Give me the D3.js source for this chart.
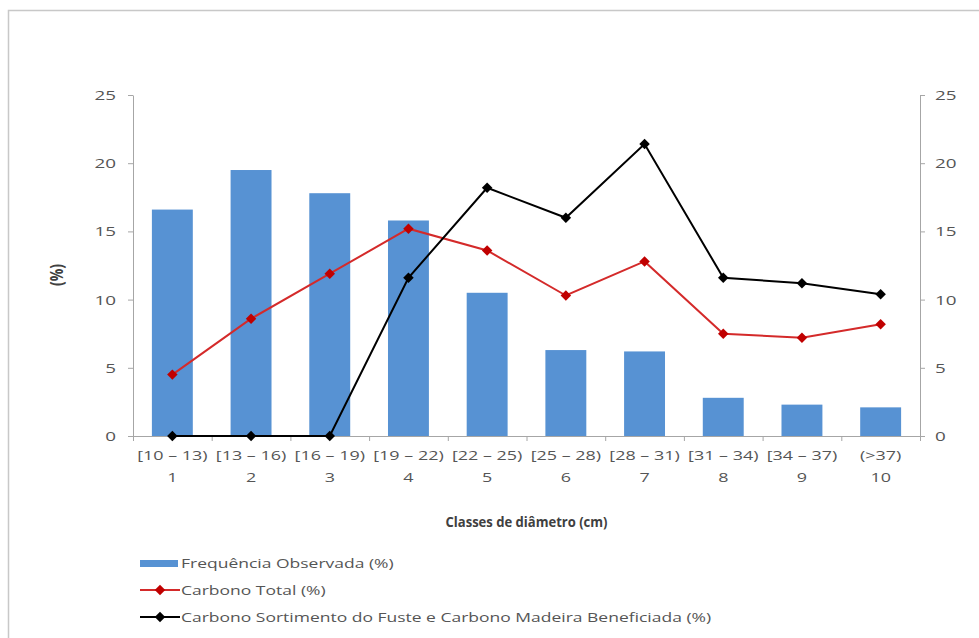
<!DOCTYPE html>
<html><head><meta charset="utf-8">
<script src="https://cdn.jsdelivr.net/npm/d3@7"></script>
<style>body{margin:0;background:#fff}svg{display:block}text{font-family:"Open Sans",sans-serif;fill:#555}</style>
</head><body>
<svg id="c" width="979" height="638"></svg>
<script>
const ranges = ["[10 – 13)","[13 – 16)","[16 – 19)","[19 – 22)","[22 – 25)","[25 – 28)","[28 – 31)","[31 – 34)","[34 – 37)","(>37)"];
const classes = ["1","2","3","4","5","6","7","8","9","10"];
const freq = [16.6, 19.5, 17.8, 15.8, 10.5, 6.3, 6.2, 2.8, 2.3, 2.1];
const carbonoTotal = [4.5, 8.6, 11.9, 15.2, 13.6, 10.3, 12.8, 7.5, 7.2, 8.2];
const carbonoSort = [0, 0, 0, 11.6, 18.2, 16.0, 21.4, 11.6, 11.2, 10.4];
const yTicks = [0, 5, 10, 15, 20, 25];
const legendLabels = ["Frequência Observada (%)", "Carbono Total (%)", "Carbono Sortimento do Fuste e Carbono Madeira Beneficiada (%)"];

const svg = d3.select("#c");
svg.append("rect").attr("x",8.5).attr("y",10.5).attr("width",1000).attr("height",700)
  .attr("fill","#fff").attr("stroke","#c8c8c8").attr("stroke-width",1.5);

const L = 133, R = 920, T = 95, B = 436;
const x = d3.scaleBand().domain(d3.range(10)).range([L, R]).paddingInner(0.48).paddingOuter(0.24);
const xc = i => x(i) + x.bandwidth()/2;
const y = d3.scaleLinear().domain([0,25]).range([B, T]);
const axisCol = "#a6a6a6";

function stext(g, tx, ty, str, size, anchor, sx, weight){
  return g.append("text").attr("transform",`translate(${tx},${ty}) scale(${sx},1)`)
    .attr("text-anchor",anchor).attr("font-size",size).attr("font-weight",weight||400).text(str);
}

// bars
svg.append("g").selectAll("rect").data(freq).join("rect")
  .attr("x",(d,i)=>x(i)).attr("width",x.bandwidth())
  .attr("y",d=>y(d)).attr("height",d=>B-y(d)).attr("fill","#5792d3");

// axes
const gl = svg.append("g").attr("transform",`translate(${L},0)`).call(d3.axisLeft(y).tickValues(yTicks).tickSize(5).tickSizeOuter(0).tickFormat(""));
const gr = svg.append("g").attr("transform",`translate(${R},0)`).call(d3.axisRight(y).tickValues(yTicks).tickSize(5).tickSizeOuter(0).tickFormat(""));
[gl,gr].forEach(g=>g.selectAll("path,line").attr("stroke",axisCol));
yTicks.forEach(t=>{
  stext(svg, L-17, y(t)+5, String(t), 13, "end", 1.45);
  stext(svg, R+15, y(t)+5, String(t), 13, "start", 1.45);
});
// x axis
const xb = d3.scaleLinear().domain([0,10]).range([L,R]);
const gx = svg.append("g").attr("transform",`translate(0,${B})`)
  .call(d3.axisBottom(xb).tickValues(d3.range(11)).tickSize(5).tickFormat("").tickSizeOuter(0));
gx.selectAll("path,line").attr("stroke",axisCol);
ranges.forEach((r,i)=>stext(svg, xc(i), 460, r, 13, "middle", 1.38));
classes.forEach((c,i)=>stext(svg, xc(i), 482, c, 13, "middle", 1.38));

stext(svg, (L+R)/2, 527, "Classes de diâmetro (cm)", 14.5, "middle", 0.9, 700).style("fill","#404040");
svg.append("text").attr("transform","translate(63,275) rotate(-90) scale(1,1.3)").attr("text-anchor","middle")
  .attr("font-size",14).attr("font-weight",700).style("fill","#404040").text("(%)");

// lines
const line = d3.line().x((d,i)=>xc(i)).y(d=>y(d));
const marker = d3.symbol().type(d3.symbolSquare).size(55);
function series(data, col, mcol){
  svg.append("path").datum(data).attr("d",line).attr("fill","none").attr("stroke",col).attr("stroke-width",2);
  svg.append("g").selectAll("path").data(data).join("path")
    .attr("transform",(d,i)=>`translate(${xc(i)},${y(d)}) rotate(45)`)
    .attr("d", marker).attr("fill",mcol);
}
series(carbonoTotal, "#d42a2a", "#c00000");
series(carbonoSort, "#000", "#000");

// legend
const lg = svg.append("g");
lg.append("rect").attr("x",140).attr("y",560).attr("width",38).attr("height",7).attr("fill","#5792d3");
stext(lg, 181, 568, legendLabels[0], 12.5, "start", 1.4);
[[590,"#d42a2a","#c00000"],[617,"#000","#000"]].forEach(([ly,c,m],k)=>{
  lg.append("line").attr("x1",140).attr("x2",180).attr("y1",ly).attr("y2",ly).attr("stroke",c).attr("stroke-width",2);
  lg.append("path").attr("transform",`translate(160,${ly}) rotate(45)`).attr("d",marker).attr("fill",m);
  stext(lg, 181, ly+4.5, legendLabels[k+1], 12.5, "start", 1.4);
});
</script>
</body></html>
